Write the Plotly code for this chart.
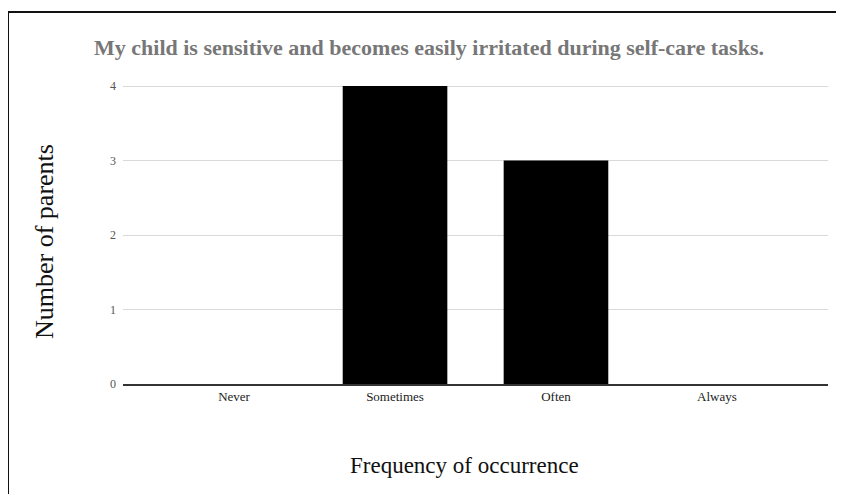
import plotly.graph_objects as go

categories = ["Never", "Sometimes", "Often", "Always"]
parents = [0, 4, 3, 0]
y_ticks = [0, 1, 2, 3, 4]

OFF = 8  # page body margin offset
W, H = 844 - OFF, 494 - OFF
L, R, T, B = 123 - OFF, 16, 80 - OFF, 110
pw = W - L - R
ph = H - T - B


def px_x(p):
    return (p - OFF - L) / pw


def px_y(p):
    return (H - B - (p - OFF)) / ph


fig = go.Figure(go.Bar(
    x=categories, y=parents, width=0.65,
    marker=dict(color="black", line=dict(width=0)),
))

fig.update_layout(
    width=W, height=H,
    margin=dict(l=L, r=R, t=T, b=B),
    paper_bgcolor="white", plot_bgcolor="white",
    font=dict(family="Liberation Serif, Times New Roman, serif"),
    showlegend=False,
    xaxis=dict(
        range=[-0.69, 3.69], showgrid=False, showline=True, linecolor="#333333",
        linewidth=1.5, ticks="", tickfont=dict(size=13, color="#222222"),
        fixedrange=True,
    ),
    yaxis=dict(
        range=[0, 4 * ph / (ph - 6)], tickvals=y_ticks, showgrid=True, gridcolor="#d9d9d9",
        gridwidth=1, zeroline=False, showline=False, ticks="",
        tickfont=dict(size=12, color="#555555"), ticklabelstandoff=6,
    ),
    shapes=[
        dict(type="rect", xref="paper", yref="paper",
             x0=px_x(8), x1=px_x(900), y0=px_y(560), y1=px_y(12),
             line=dict(color="#111111", width=2), fillcolor="rgba(0,0,0,0)"),
    ],
    annotations=[
        dict(text="<b>My child is sensitive and becomes easily irritated during self-care tasks.</b>",
             xref="paper", yref="paper", x=px_x(429), y=px_y(48),
             xanchor="center", yanchor="middle", showarrow=False,
             font=dict(size=22, color="#777777")),
        dict(text="Frequency of occurrence", xref="paper", yref="paper",
             x=px_x(464), y=px_y(465), xanchor="center", yanchor="middle",
             showarrow=False, font=dict(size=23, color="#111111")),
        dict(text="Number of parents", xref="paper", yref="paper",
             x=px_x(44), y=px_y(242), xanchor="center", yanchor="middle",
             textangle=-90, showarrow=False, font=dict(size=26, color="#111111")),
    ],
)

fig.write_html("out.html")
